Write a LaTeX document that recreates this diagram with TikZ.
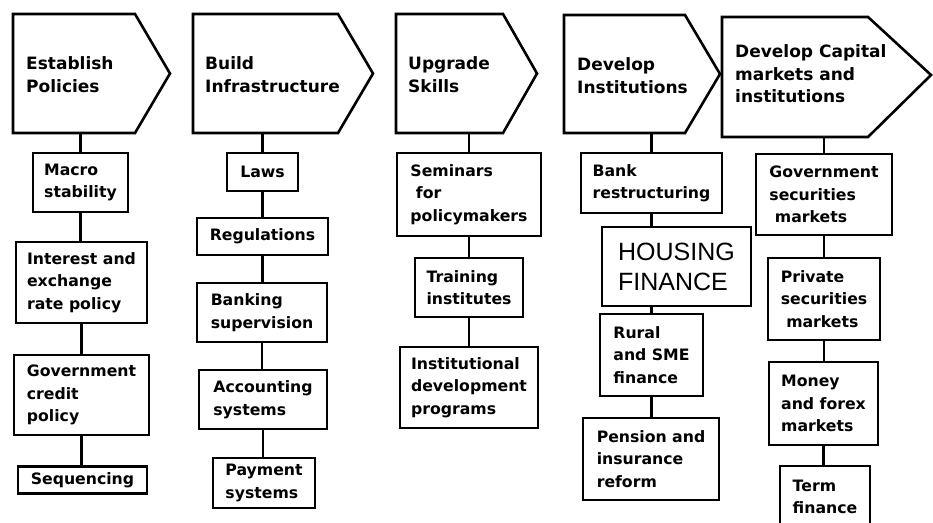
\documentclass[tikz,border=0pt]{standalone}
\usepackage{fontspec}
\newfontfamily\djv{DejaVu Sans}
\newfontfamily\lib{Liberation Sans}
\tikzset{
  hdr/.style={draw, line width=2.6pt, line join=miter},
  htext/.style={anchor=west, align=left, inner sep=0pt, font=\djv\bfseries\fontsize{17}{22.5}\selectfont},
  box/.style={draw, line width=2.2pt, align=left, inner sep=0pt, font=\djv\bfseries\fontsize{15.7}{22.5}\selectfont},
  bigbox/.style={draw, line width=2.2pt, align=left, inner sep=0pt, font=\lib\fontsize{25}{30}\selectfont},
  link/.style={line width=2.1pt},
}
\begin{document}
\begin{tikzpicture}[x=1pt,y=-1pt]
\useasboundingbox (0,0) rectangle (933,522);
\clip (0,0) rectangle (933,522);
% ---------- headers ----------
\draw[hdr] (13,14) -- (135,14) -- (170,73.5) -- (135,133) -- (13,133) -- cycle;
\node[htext] (h1) at (26,74.5) {Establish\\Policies};
\draw[hdr] (193,14) -- (338,14) -- (373,73.5) -- (338,133) -- (193,133) -- cycle;
\node[htext] (h2) at (205,74.5) {Build\\Infrastructure};
\draw[hdr] (396,14) -- (503,14) -- (537,73.5) -- (503,133) -- (396,133) -- cycle;
\node[htext] (h3) at (408,74.5) {Upgrade\\Skills};
\draw[hdr] (564,15) -- (685,15) -- (720,74) -- (685,133) -- (564,133) -- cycle;
\node[htext] (h4) at (577,75.5) {Develop\\Institutions};
\draw[hdr] (722,17) -- (868,17) -- (931,75) -- (868,137) -- (722,137) -- cycle;
\node[htext] (h5) at (735,74) {Develop Capital\\markets and\\institutions};
\coordinate (h1s) at (80.5,133);
\coordinate (h2s) at (262.5,133);
\coordinate (h3s) at (469,133);
\coordinate (h4s) at (651.5,133);
\coordinate (h5s) at (824,137);
% ---------- column 1 ----------
\node[box, minimum width=95, minimum height=59] (macro) at (80.5,182.5) {Macro\\stability};
\node[box, minimum width=131, minimum height=81] (interest) at (81.5,282.5) {Interest and\\exchange\\rate policy};
\node[box, minimum width=135, minimum height=80] (govcredit) at (81.5,395) {Government\\credit\\policy};
\node[box, minimum width=129, minimum height=27] (seq) at (82.5,480) {Sequencing};
% ---------- column 2 ----------
\node[box, minimum width=71, minimum height=38] (laws) at (262.5,172) {Laws};
\node[box, minimum width=131, minimum height=37] (regs) at (262.5,236.5) {Regulations};
\node[box, minimum width=130, minimum height=59] (banking) at (262,312.5) {Banking\\supervision};
\node[box, minimum width=128, minimum height=59] (accounting) at (263,399.5) {Accounting\\systems};
\node[box, minimum width=102, minimum height=50] (payment) at (264,483) {Payment\\systems};
% ---------- column 3 ----------
\node[box, minimum width=144, minimum height=83] (seminars) at (469,194.5) {Seminars\\\hspace*{0.35em}for\\policymakers};
\node[box, minimum width=108, minimum height=59] (training) at (469,287.5) {Training\\institutes};
\node[box, minimum width=138, minimum height=81] (instdev) at (469,387.5) {Institutional\\development\\programs};
% ---------- column 4 ----------
\node[box, minimum width=141, minimum height=60] (bank) at (651.5,183) {Bank\\restructuring};
\node[bigbox, minimum width=149, minimum height=79] (housing) at (676.5,266.5) {HOUSING\\FINANCE};
\node[box, minimum width=103, minimum height=82] (rural) at (651.5,355) {Rural\\and SME\\finance};
\node[box, minimum width=136, minimum height=82] (pension) at (651,459) {Pension and\\insurance\\reform};
% ---------- column 5 ----------
\node[box, minimum width=136, minimum height=81] (govsec) at (824,194.5) {Government\\securities\\\hspace*{0.35em}markets};
\node[box, minimum width=112, minimum height=82] (private) at (824,299) {Private\\securities\\\hspace*{0.35em}markets};
\node[box, minimum width=109, minimum height=83] (money) at (823.5,403.5) {Money\\and forex\\markets};
\node[box, minimum width=90, minimum height=62] (term) at (825,497) {Term\\finance};
% ---------- connectors ----------
\draw[link] (h1s) -- (h1s |- macro.north);
\draw[link] (macro.south) -- (macro.south |- interest.north);
\draw[link] (interest.south) -- (interest.south |- govcredit.north);
\draw[link] (govcredit.south) -- (govcredit.south |- seq.north);
\draw[link] (h2s) -- (h2s |- laws.north);
\draw[link] (laws.south) -- (laws.south |- regs.north);
\draw[link] (regs.south) -- (regs.south |- banking.north);
\draw[link] (banking.south) -- (banking.south |- accounting.north);
\draw[link] (accounting.south) -- (accounting.south |- payment.north);
\draw[link] (h3s) -- (h3s |- seminars.north);
\draw[link] (seminars.south) -- (seminars.south |- training.north);
\draw[link] (training.south) -- (training.south |- instdev.north);
\draw[link] (h4s) -- (h4s |- bank.north);
\draw[link] (bank.south) -- (bank.south |- housing.north);
\draw[link] (rural.north |- housing.south) -- (rural.north);
\draw[link] (rural.south) -- (rural.south |- pension.north);
\draw[link] (h5s) -- (h5s |- govsec.north);
\draw[link] (govsec.south) -- (govsec.south |- private.north);
\draw[link] (private.south) -- (private.south |- money.north);
\draw[link] (money.south) -- (money.south |- term.north);
\end{tikzpicture}
\end{document}
